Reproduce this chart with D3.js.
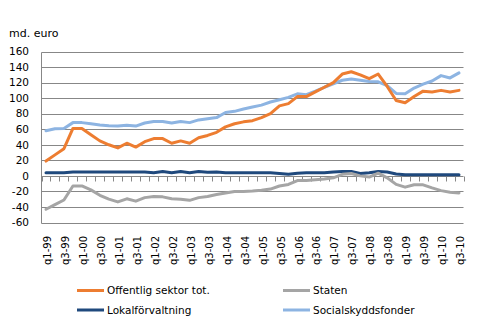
<!DOCTYPE html>
<html>
<head>
<meta charset="utf-8">
<script src="https://cdn.jsdelivr.net/npm/d3@7"></script>
<style>
  html, body { margin: 0; padding: 0; background: #fff; }
  svg text { font-family: "DejaVu Sans", Verdana, sans-serif; fill: #000; }
</style>
</head>
<body>
<svg id="chart" width="482" height="331"></svg>
<script>
// Quarters 1999 Q1 – 2010 Q3
const quarters = [];
for (let y = 1999; y <= 2010; y++) {
  for (let q = 1; q <= 4; q++) {
    if (y === 2010 && q > 3) break;
    quarters.push("q" + q + "-" + String(y % 100).padStart(2, "0"));
  }
}

const yTicks = [-60, -40, -20, 0, 20, 40, 60, 80, 100, 120, 140, 160];

// Billions of euro per quarter
const offentligSektor = [19, 27, 35, 61, 61, 53, 45, 40, 36, 42, 37, 44, 48, 48, 42, 45,
  42, 49, 52, 56, 63, 67, 69.5, 71, 75, 80, 90, 93, 102, 102, 108, 114,
  120, 131, 134, 130, 125, 131, 115, 97, 94, 102, 109, 108, 110, 108, 110];
const staten = [-43, -37, -31, -13, -13, -18, -25, -30, -33.5, -29.5, -32.5, -28, -26.5, -27, -29.5, -30,
  -31.5, -28, -26.5, -24, -22, -20, -20, -19.5, -18.5, -17, -13, -11, -6, -6, -5, -4,
  -2.5, 2, 3, 0, -1.5, 3.5, -2.5, -11, -14.5, -11.5, -11.5, -15.5, -19, -21, -22];
const lokalforvaltning = [4, 4, 4, 5, 5, 5, 5, 5, 5, 5, 5, 5, 4, 5.5, 4, 5.5,
  4, 5.5, 4.5, 5, 4, 4, 4, 4, 4, 4, 3, 2, 3.5, 4, 4, 4,
  5, 5.5, 5.5, 3, 4, 5.5, 5, 2.5, 1.5, 1.5, 1.5, 1.5, 1.5, 1.5, 1.5];
const socialskyddsfonder = [58, 60.5, 61, 68.5, 68.5, 67, 65.5, 64.5, 64, 65, 64, 68, 70, 70, 68, 70,
  68.5, 72, 73.5, 75, 81.5, 83, 86, 88.5, 91, 95, 98, 101, 105.5, 104.5, 109, 114,
  118.5, 123, 124.5, 123, 121.5, 121, 116, 106, 105.5, 113, 118, 122, 129, 126, 132.5];

const series = [
  { name: "Offentlig sektor tot.", values: offentligSektor, color: "#ED7D31" },
  { name: "Staten", values: staten, color: "#A5A5A5" },
  { name: "Lokalförvaltning", values: lokalforvaltning, color: "#1F497D" },
  { name: "Socialskyddsfonder", values: socialskyddsfonder, color: "#8DB4E2" }
];

const plot = { left: 41.5, right: 463.5, top: 51.5, bottom: 222.5 };
const svg = d3.select("#chart");

const x = d3.scaleBand().domain(quarters).range([plot.left, plot.right]).padding(0);
const y = d3.scaleLinear().domain([-60, 160]).range([plot.bottom, plot.top]);

// Horizontal gridlines
svg.append("g").selectAll("line").data(yTicks).join("line")
  .attr("x1", plot.left).attr("x2", plot.right)
  .attr("y1", d => Math.round(y(d)) + 0.5).attr("y2", d => Math.round(y(d)) + 0.5)
  .attr("stroke", "#878787").attr("stroke-width", 1);

// Value axis line
svg.append("line")
  .attr("x1", plot.left).attr("x2", plot.left)
  .attr("y1", Math.round(y(160)) + 0.5).attr("y2", Math.round(y(-60)) + 0.5)
  .attr("stroke", "#878787");

// Value axis labels
svg.append("g").selectAll("text").data(yTicks).join("text")
  .attr("x", 29).attr("y", d => y(d)).attr("dy", "0.36em")
  .attr("text-anchor", "end").attr("font-size", "10.5px")
  .text(d => d);

svg.append("text").attr("x", 9).attr("y", 37).attr("font-size", "11px").text("md. euro");

// Category tick marks along the zero line
const zeroY = Math.round(y(0)) + 0.5;
const boundaries = quarters.map(q => x(q)).concat([plot.right]);
svg.append("g").selectAll("line").data(boundaries).join("line")
  .attr("x1", d => Math.round(d) + 0.5).attr("x2", d => Math.round(d) + 0.5)
  .attr("y1", zeroY).attr("y2", zeroY + 5)
  .attr("stroke", "#878787");

// Category labels, every second quarter, rotated
const cx = q => x(q) + x.bandwidth() / 2;
svg.append("g").selectAll("text").data(quarters.filter((q, i) => i % 2 === 0)).join("text")
  .attr("transform", q => `translate(${cx(q) + 1.5},236) rotate(-90)`)
  .attr("text-anchor", "end").attr("dy", "0.36em")
  .attr("font-size", "10px")
  .text(q => q);

// Series lines
const line = d3.line().x((d, i) => cx(quarters[i])).y(d => y(d));
const drawOrder = [2, 1, 3, 0];
svg.append("g").selectAll("path").data(drawOrder.map(i => series[i])).join("path")
  .attr("d", s => line(s.values))
  .attr("fill", "none").attr("stroke", s => s.color)
  .attr("stroke-width", 3).attr("stroke-linejoin", "round").attr("stroke-linecap", "round");

// Legend
const legendPos = [[77, 290.5], [283, 290.5], [77, 310], [283, 310]];
const lg = svg.append("g").selectAll("g").data(series).join("g")
  .attr("transform", (s, i) => `translate(${legendPos[i][0]},${legendPos[i][1]})`);
lg.append("line").attr("x1", 0).attr("x2", 27).attr("y1", 0).attr("y2", 0)
  .attr("stroke", s => s.color).attr("stroke-width", 3);
lg.append("text").attr("x", 30).attr("dy", "0.36em").attr("font-size", "10.5px")
  .text(s => s.name);
</script>
</body>
</html>
